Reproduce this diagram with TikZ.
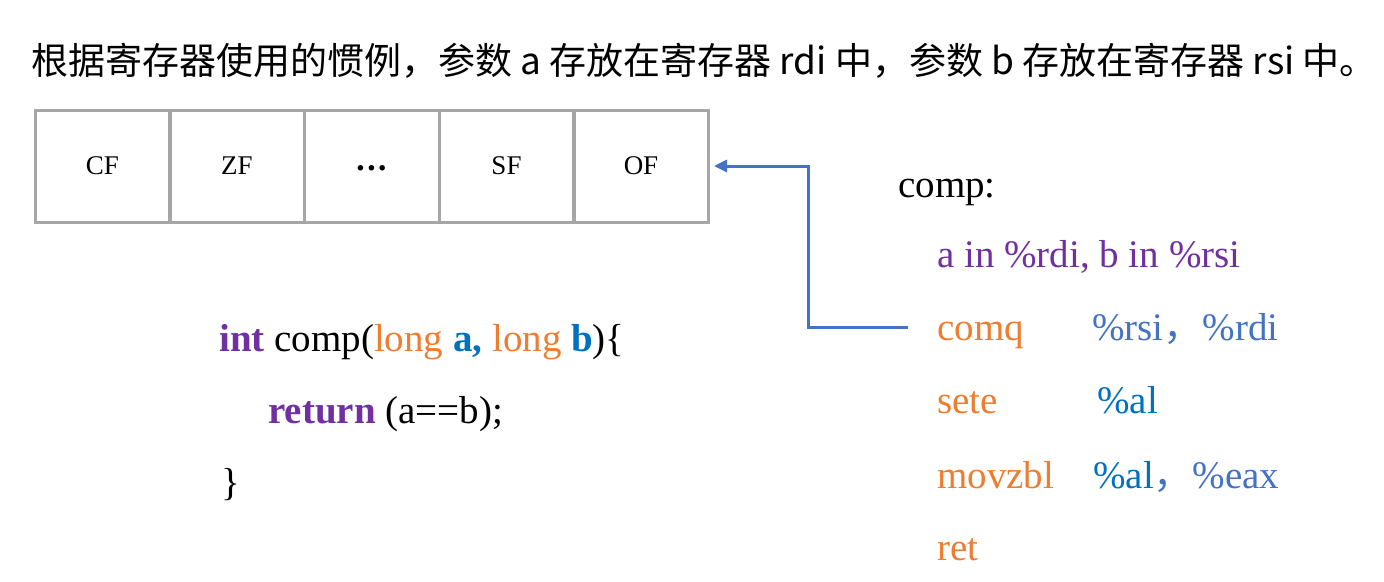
\documentclass[tikz,border=0pt]{standalone}
\usepackage{fontspec}
\setmainfont{Liberation Serif}
\newfontfamily\cjk{Noto Sans CJK SC}
\usetikzlibrary{arrows.meta}
\definecolor{purp}{HTML}{7030A0}
\definecolor{orng}{HTML}{ED7D31}
\definecolor{lblue}{HTML}{4472C4}
\definecolor{dblue}{HTML}{0070C0}
\definecolor{cellgray}{HTML}{A6A6A6}
\tikzset{
  cell/.style={draw=cellgray, line width=3pt, minimum width=135pt, minimum height=112pt, inner sep=0pt, font=\fontsize{27}{30}\selectfont},
  code/.style={anchor=base west, inner sep=0pt, font=\fontsize{39}{44}\selectfont},
  arr/.style={draw=lblue, line width=3pt, -{Triangle[length=13pt,width=12pt]}},
}
\begin{document}
\begin{tikzpicture}[x=1pt,y=-1pt]
\useasboundingbox (0,0) rectangle (1384,581);
\node[anchor=base west, inner sep=0pt, font=\cjk\fontsize{37}{40}\selectfont] (title) at (31,74)
  {根据寄存器使用的惯例，参数 a 存放在寄存器 rdi 中，参数 b 存放在寄存器 rsi 中。};
% flag cells
\node[cell] (CF) at (102.5,166) {\raisebox{-1.5pt}{CF}};
\node[cell] (ZF) at (237,166) {\raisebox{-1.5pt}{ZF}};
\node[cell] (DOTS) at (371.5,166) {\raisebox{-13pt}[0pt][0pt]{\fontsize{34}{34}\selectfont\bfseries ·\kern-0.5pt·\kern-0.5pt·}};
\node[cell] (SF) at (506.5,166) {\raisebox{-1.5pt}{SF}};
\node[cell] (OF) at (641,166) {\raisebox{-1.5pt}{OF}};
% C code
\node[code] (c1) at (219,351) {{\color{purp}\bfseries int} comp({\color{orng}long} {\color{dblue}\bfseries a,} {\color{orng}long} {\color{dblue}\bfseries b})\{};
\node[code] (c2) at (268,423) {{\color{purp}\bfseries return} (a==b);};
\node[code] (c3) at (221,495) {\}};
% assembly
\node[code] (comp) at (898,197) {comp:};
\node[code, text=purp] (args) at (937,267) {a in \%rdi, b in \%rsi};
\node[code, text=orng] (comq) at (937,340) {comq};
\node[code, text=lblue] (op1) at (1092,340) {\%rsi{\cjk，}\%rdi};
\node[code, text=orng] (sete) at (937,413) {sete};
\node[code, text=dblue] (op2) at (1097,413) {\%al};
\node[code, text=orng] (movzbl) at (937,488) {movzbl};
\node[code] (op3) at (1093,488) {{\color{dblue}\%al}{\color{lblue}{\cjk，}\%eax}};
\node[code, text=orng] (ret) at (937,560) {ret};
% arrow
\draw[arr] ([xshift=-29pt, yshift=13pt]comq.base west) -- ++(-100,0) |- ([xshift=4pt]OF.east);
\end{tikzpicture}
\end{document}
